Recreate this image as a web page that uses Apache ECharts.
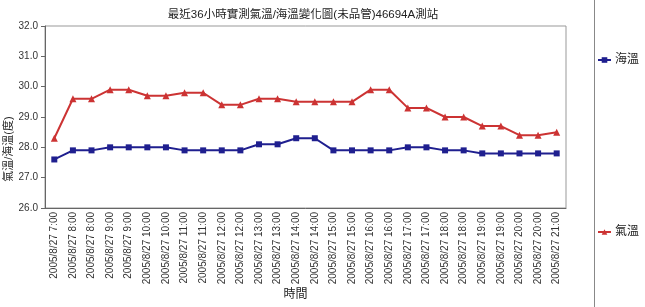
<!DOCTYPE html>
<html><head><meta charset="utf-8">
<script src="https://cdn.jsdelivr.net/npm/echarts@6/dist/echarts.min.js"></script>
<style>html,body{margin:0;padding:0;background:#fff}#c{width:645px;height:307px}</style>
</head><body><div id="c"></div>
<script>
const categories = ["2005/8/27 7:00","2005/8/27 8:00","2005/8/27 8:00","2005/8/27 9:00","2005/8/27 9:00","2005/8/27 10:00","2005/8/27 10:00","2005/8/27 11:00","2005/8/27 11:00","2005/8/27 12:00","2005/8/27 12:00","2005/8/27 13:00","2005/8/27 13:00","2005/8/27 14:00","2005/8/27 14:00","2005/8/27 15:00","2005/8/27 15:00","2005/8/27 16:00","2005/8/27 16:00","2005/8/27 17:00","2005/8/27 17:00","2005/8/27 18:00","2005/8/27 18:00","2005/8/27 19:00","2005/8/27 19:00","2005/8/27 20:00","2005/8/27 20:00","2005/8/27 21:00"];
const seaTemp = [27.6,27.9,27.9,28.0,28.0,28.0,28.0,27.9,27.9,27.9,27.9,28.1,28.1,28.3,28.3,27.9,27.9,27.9,27.9,28.0,28.0,27.9,27.9,27.8,27.8,27.8,27.8,27.8];
const airTemp = [28.3,29.6,29.6,29.9,29.9,29.7,29.7,29.8,29.8,29.4,29.4,29.6,29.6,29.5,29.5,29.5,29.5,29.9,29.9,29.3,29.3,29.0,29.0,28.7,28.7,28.4,28.4,28.5];
const yTicks = {min:26, max:32, interval:1};

const FONT = '"Liberation Sans", Arial, "Noto Sans CJK TC", sans-serif';
const chart = echarts.init(document.getElementById('c'));
chart.setOption({
  animation:false,
  textStyle:{fontFamily:FONT},
  title:{text:'最近36小時實測氣溫/海溫變化圖(未品管)46694A測站', left:298, textAlign:'center', top:4,
    textStyle:{fontSize:11.5, fontWeight:'normal', color:'#222', fontFamily:FONT}},
  grid:{left:45, top:26, width:521, height:182, show:true, borderColor:'#999', borderWidth:1, backgroundColor:'#fff',
    outerBoundsMode:'none', containLabel:false},
  legend:[
    {data:['海溫'], left:597, top:54, padding:0, itemWidth:13, itemHeight:7, itemGap:7, textStyle:{fontSize:12, color:'#222', fontFamily:FONT, padding:[0,0,0,-1]}},
    {data:['氣溫'], left:597, top:226, padding:0, itemWidth:13, itemHeight:7, itemGap:7, textStyle:{fontSize:12, color:'#222', fontFamily:FONT, padding:[0,0,0,-1]}}
  ],
  graphic:[{type:'line', shape:{x1:594.5,y1:0,x2:594.5,y2:307}, style:{stroke:'#888', lineWidth:1}}],
  xAxis:{type:'category', data:categories, boundaryGap:true,
    name:'時間', nameLocation:'middle', nameGap:81, nameMoveOverlap:false, nameTextStyle:{fontSize:12, color:'#222', padding:[0,20,0,0]},
    axisLine:{lineStyle:{color:'#666'}}, axisTick:{alignWithLabel:true, length:4, lineStyle:{color:'#666'}},
    axisLabel:{rotate:90, fontSize:10, color:'#333', margin:4, interval:0}},
  yAxis:{type:'value', min:yTicks.min, max:yTicks.max, interval:yTicks.interval,
    name:'氣溫/海溫(度)', nameLocation:'middle', nameGap:31, nameMoveOverlap:false, nameRotate:90, nameTextStyle:{fontSize:11, color:'#222', padding:[0,64,0,0]},
    splitLine:{show:false}, axisLine:{show:true, lineStyle:{color:'#666'}}, axisTick:{show:true, length:4, lineStyle:{color:'#666'}},
    axisLabel:{fontSize:10, color:'#333', margin:7, formatter:v=>v.toFixed(1)}},
  series:[
    {name:'海溫', type:'line', data:seaTemp, symbol:'rect', symbolSize:6, color:'#1f1f8f',
      lineStyle:{width:2, color:'#1f1f8f'}, itemStyle:{color:'#1f1f8f'}},
    {name:'氣溫', type:'line', data:airTemp, symbol:'triangle', symbolSize:7, color:'#cc3333',
      lineStyle:{width:2, color:'#cc3333'}, itemStyle:{color:'#cc3333'}}
  ]
});
</script></body></html>
